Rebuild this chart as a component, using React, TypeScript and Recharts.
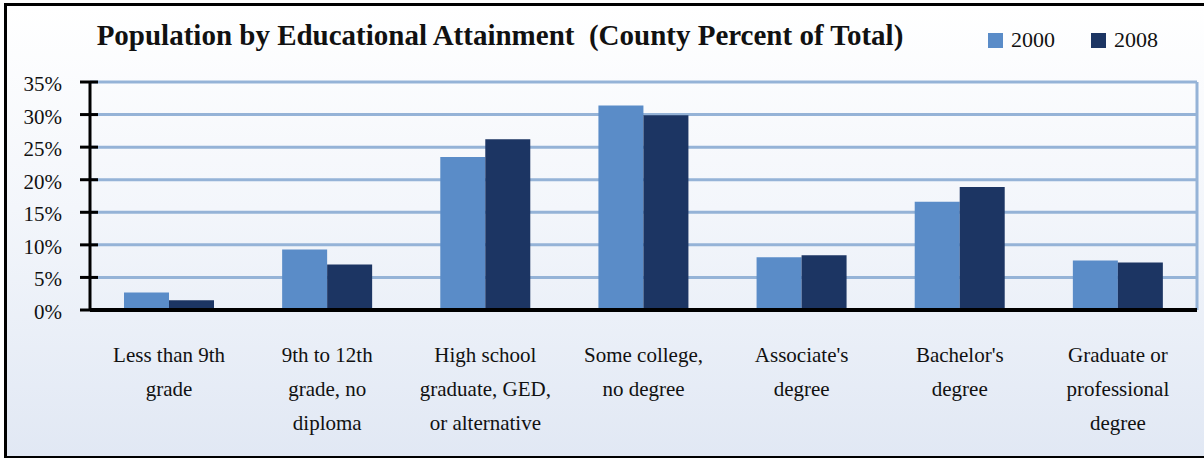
import React from 'react'
import { BarChart, Bar, XAxis, YAxis, CartesianGrid } from 'recharts'

// Population by educational attainment, county percent of total
const categories = [
  'Less than 9th\ngrade',
  '9th to 12th\ngrade, no\ndiploma',
  'High school\ngraduate, GED,\nor alternative',
  'Some college,\nno degree',
  "Associate's\ndegree",
  "Bachelor's\ndegree",
  'Graduate or\nprofessional\ndegree',
]
const values2000 = [2.7, 9.3, 23.5, 31.4, 8.1, 16.6, 7.6]
const values2008 = [1.5, 7.0, 26.2, 29.9, 8.4, 18.9, 7.3]
const yTicks = [0, 5, 10, 15, 20, 25, 30, 35]

const COLOR_2000 = '#5A8CC8'
const COLOR_2008 = '#1C3563'
const GRID = '#95B3D7'
const FONT = '"Liberation Serif", "DejaVu Serif", serif'

const series = [
  { key: 'y2000', name: '2000', color: COLOR_2000 },
  { key: 'y2008', name: '2008', color: COLOR_2008 },
]

const data = categories.map((name, i) => ({
  name,
  y2000: values2000[i],
  y2008: values2008[i],
}))

function YTick({ x, y, payload }: any) {
  return (
    <g>
      <line x1={x - 10} x2={x + 8} y1={y} y2={y} stroke="#000" strokeWidth={3} />
      <text x={x - 28} y={y} dy={9} textAnchor="end" fontFamily={FONT} fontSize={21} fill="#111">
        {payload.value}%
      </text>
    </g>
  )
}

function XTick({ x, y, payload }: any) {
  const lines = String(payload.value).split('\n')
  return (
    <text x={x} y={y + 52} textAnchor="middle" fontFamily={FONT} fontSize={21} fill="#111">
      {lines.map((l, i) => (
        <tspan key={i} x={x} dy={i === 0 ? 0 : 34}>
          {l}
        </tspan>
      ))}
    </text>
  )
}

export default function App() {
  return (
    <div
      style={{
        position: 'absolute',
        left: 0,
        top: 0,
        width: 1204,
        height: 458,
        overflow: 'hidden',
        background: '#fff',
      }}
    >
      <div
        style={{
          position: 'absolute',
          left: 4,
          top: 3,
          width: 1210,
          height: 450,
          border: '3px solid #000',
          background: 'linear-gradient(to bottom, #ffffff 0%, #f3f6fb 45%, #e1e8f4 100%)',
        }}
      />
      <div
        style={{
          position: 'absolute',
          left: 0,
          width: 1000,
          top: 19,
          textAlign: 'center',
          fontFamily: FONT,
          fontWeight: 'bold',
          fontSize: 29,
          color: '#111',
          whiteSpace: 'pre',
        }}
      >
        {'Population by Educational Attainment  (County Percent of Total)'}
      </div>
      {/* legend */}
      <div
        style={{
          position: 'absolute',
          left: 988,
          top: 27,
          display: 'flex',
          gap: 36,
          fontFamily: FONT,
          fontSize: 22,
          color: '#111',
        }}
      >
        {series.map((s) => (
          <div key={s.key} style={{ display: 'flex', alignItems: 'center', gap: 8 }}>
            <div style={{ width: 15, height: 15, background: s.color }} />
            <span>{s.name}</span>
          </div>
        ))}
      </div>
      <div style={{ position: 'absolute', left: 0, top: 0 }}>
        <BarChart
          width={1204}
          height={458}
          data={data}
          margin={{ top: 82, right: 6, bottom: 0, left: 0 }}
          barCategoryGap={34}
          barGap={0}
        >
          <CartesianGrid yAxisId="left" horizontal vertical={false} stroke={GRID} strokeWidth={3} />
          <YAxis
            yAxisId="left"
            domain={[0, 35]}
            ticks={yTicks}
            width={90}
            tickSize={0}
            tickMargin={0}
            tickLine={false}
            axisLine={{ stroke: '#000', strokeWidth: 3 }}
            tick={<YTick />}
            interval={0}
          />
          <YAxis
            yAxisId="right"
            orientation="right"
            domain={[0, 35]}
            ticks={yTicks}
            width={1}
            tick={false}
            tickLine={false}
            axisLine={{ stroke: GRID, strokeWidth: 3 }}
          />
          <XAxis
            dataKey="name"
            height={148}
            tickSize={0}
            tickMargin={0}
            tickLine={false}
            interval={0}
            axisLine={{ stroke: '#000', strokeWidth: 4 }}
            tick={<XTick />}
          />
          {series.map((s) => (
            <Bar
              key={s.key}
              yAxisId="left"
              dataKey={s.key}
              name={s.name}
              fill={s.color}
              isAnimationActive={false}
            />
          ))}
        </BarChart>
      </div>
    </div>
  )
}
